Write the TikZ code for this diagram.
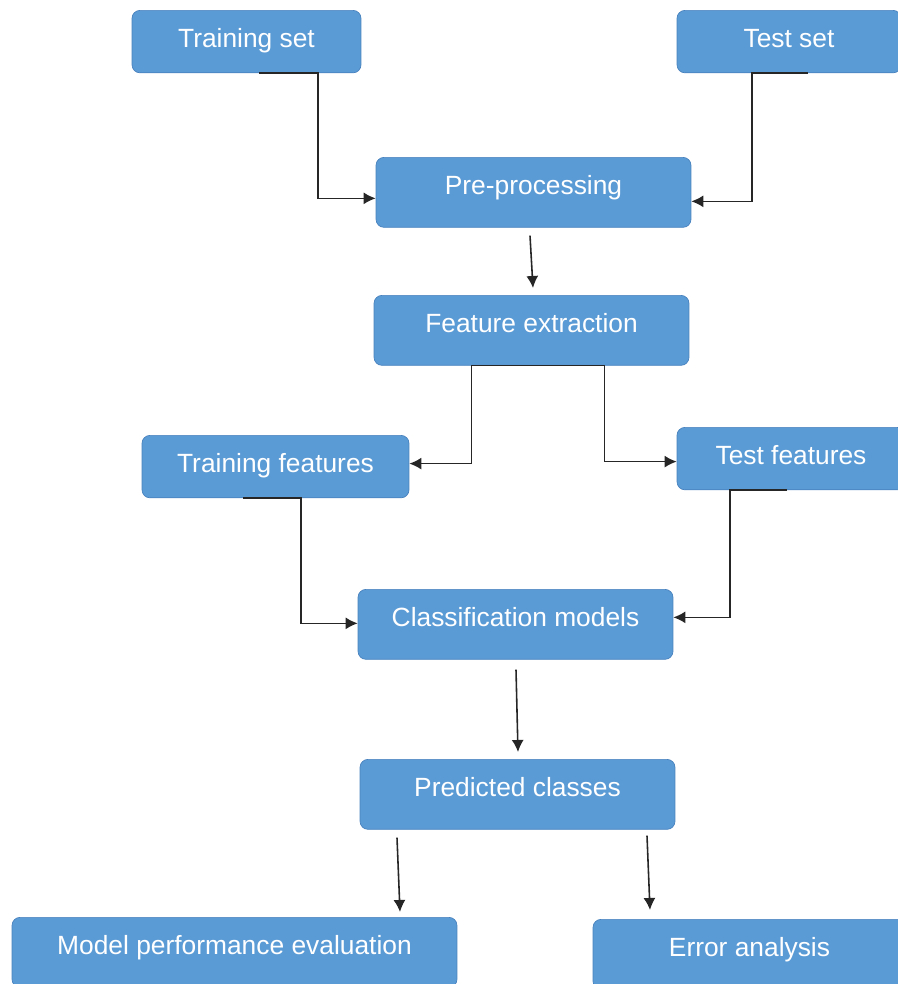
\documentclass[tikz,border=0pt]{standalone}
\usepackage{fontspec}
\setmainfont{Liberation Sans}
\usetikzlibrary{arrows.meta,calc}
\definecolor{boxfill}{RGB}{91,155,213}
\definecolor{boxdraw}{RGB}{72,130,190}

\begin{document}
\begin{tikzpicture}
  [x=0.02cm, y=-0.02cm,
  line/.style={draw, line width=0.9pt, draw=black!85, -{Latex[length=0.24cm, width=0.24cm]}},
  block/.style={rectangle, rounded corners=0.16cm, draw=boxdraw, fill=boxfill, text=white,
    font=\fontsize{15}{18}\selectfont, anchor=north, inner xsep=0pt, inner ysep=0pt,
    text height=0.75cm, text depth=0.65cm},
  lowblock/.style={text depth=0.5cm}]
  \useasboundingbox (0,0) rectangle (897,984);
  % nodes
  \node [block, lowblock, minimum width=4.58cm] (trainset) at (246.5,10) {Training set};
  \node [block, lowblock, minimum width=4.48cm] (testset) at (789,10) {Test set};
  \node [block, minimum width=6.3cm] (prep) at (533.5,157) {Pre-processing};
  \node [block, minimum width=6.3cm] (feat) at (531.5,295) {Feature extraction};
  \node [block, lowblock, minimum width=5.34cm] (trainfeat) at (275.5,435) {Training features};
  \node [block, lowblock, minimum width=4.56cm] (testfeat) at (791,427) {Test features};
  \node [block, minimum width=6.3cm] (classify) at (515.5,589) {Classification models};
  \node [block, minimum width=6.3cm] (predict) at (517.5,759) {Predicted classes};
  \node [block, minimum width=8.9cm] (evaluate) at (234.5,917) {Model performance evaluation};
  \node [block, minimum width=6.26cm] (errors) at (749.5,919) {Error analysis};
  % edges
  \path [line] ($(trainset.south)+(12.5,0)$) -- ++(59,0) |- ($(prep.west)+(0,6)$);
  \path [line] ($(testset.south)+(19,0)$) -- ++(-56,0) |- ($(prep.east)+(0,9)$);
  \path [line] ($(prep.south)+(-3.5,8)$) -- ($(feat.north)+(1.5,-7)$);
  \path [line] (feat.south) -- ++(-60,0) |- ($(trainfeat.east)+(0,-3)$);
  \path [line] (feat.south) -- ++(73,0) |- ($(testfeat.west)+(0,3)$);
  \path [line] ($(trainfeat.south)+(-32.5,0)$) -- ++(58,0) |- ($(classify.west)+(0,-1)$);
  \path [line] ($(testfeat.south)+(-4,0)$) -- ++(-57,0) |- ($(classify.east)+(0,-7)$);
  \path [line] ($(classify.south)+(0.5,10)$) -- ($(predict.north)+(0.5,-7)$);
  \path [line] ($(predict.south)+(-120.5,8)$) -- ($(evaluate.north)+(165.5,-5)$);
  \path [line] ($(predict.south)+(129.5,6)$) -- ($(errors.north)+(-99.5,-9)$);
\end{tikzpicture}
\end{document}
